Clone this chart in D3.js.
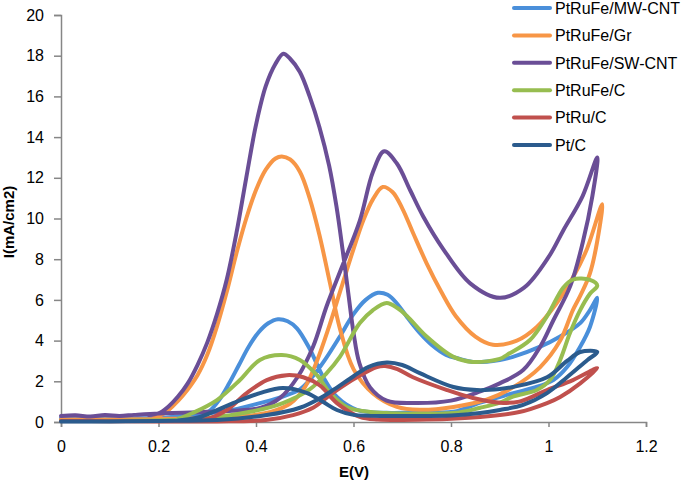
<!DOCTYPE html>
<html>
<head>
<meta charset="utf-8">
<script src="https://cdn.jsdelivr.net/npm/d3@7"></script>
<style>
  html, body { margin: 0; padding: 0; background: #fff; }
  svg { display: block; font-family: "Liberation Sans", Arial, sans-serif; }
</style>
</head>
<body>
<svg id="chart" width="685" height="483"></svg>
<script>
// ---- data (E in V, I in mA/cm2), each series is a closed CV loop ----
const seriesNames = ["PtRuFe/MW-CNT", "PtRuFe/Gr", "PtRuFe/SW-CNT", "PtRuFe/C", "PtRu/C", "Pt/C"];
const seriesColors = ["#4A8FDA", "#F79646", "#6A4E96", "#97BD50", "#C0504D", "#2B5B8D"];

const mwCNT = [[0,0.2],[0.1,0.18],[0.2,0.2],[0.25,0.3],[0.3,0.42],[0.353,0.6],[0.408,0.93],[0.455,1.25],[0.49,1.6],[0.515,2.2],[0.54,3.0],[0.572,4.2],[0.6,5.3],[0.625,6.0],[0.65,6.35],[0.67,6.25],[0.69,5.8],[0.71,5.15],[0.735,4.4],[0.76,3.8],[0.79,3.3],[0.818,3.1],[0.845,2.95],[0.9,3.05],[0.927,3.2],[0.983,3.7],[1.024,4.2],[1.065,4.86],[1.085,5.5],[1.1,6.1],
  [1.085,4.67],[1.065,3.7],[1.038,2.7],[1.01,2.06],[0.968,1.67],[0.915,1.33],[0.86,0.95],[0.805,0.5],[0.736,0.49],[0.668,0.45],[0.607,0.6],[0.566,1.23],[0.538,2.2],[0.51,3.6],[0.484,4.6],[0.465,4.95],[0.445,5.05],[0.425,4.85],[0.405,4.4],[0.385,3.7],[0.365,2.8],[0.345,1.9],[0.325,1.1],[0.305,0.55],[0.28,0.3],[0.25,0.2]];

const gr = [[0,0.12],[0.1,0.12],[0.2,0.15],[0.3,0.2],[0.38,0.3],[0.43,0.5],[0.47,0.9],[0.5,1.7],[0.525,3.0],[0.55,4.7],[0.575,6.6],[0.6,8.5],[0.62,9.9],[0.64,10.95],[0.66,11.55],[0.68,11.3],[0.70,10.5],[0.722,9.3],[0.75,7.8],[0.78,6.4],[0.81,5.2],[0.85,4.2],[0.886,3.8],[0.935,4.0],[0.976,4.67],[1.017,5.85],[1.05,7.1],[1.078,8.45],[1.11,10.7],
  [1.105,9.6],[1.085,7.3],[1.065,6.2],[1.05,5.5],[1.024,4.0],[0.983,2.7],[0.927,1.7],[0.873,1.1],[0.805,0.74],[0.736,0.6],[0.689,0.74],[0.64,1.4],[0.6,2.6],[0.572,4.6],[0.552,6.8],[0.53,9.2],[0.51,11.0],[0.49,12.3],[0.47,12.9],[0.453,13.05],[0.44,12.95],[0.42,12.4],[0.40,11.4],[0.38,10.0],[0.36,8.3],[0.34,6.4],[0.32,4.7],[0.3,3.3],[0.28,2.3],[0.25,1.3],[0.23,0.8],[0.21,0.4],[0.19,0.2]];

const swCNT = [[0,0.3],[0.03,0.33],[0.06,0.27],[0.09,0.34],[0.12,0.3],[0.15,0.35],[0.2,0.42],[0.25,0.45],[0.3,0.5],[0.35,0.55],[0.41,0.7],[0.45,1.2],[0.485,2.2],[0.517,3.7],[0.545,5.7],[0.576,7.6],[0.613,9.9],[0.64,12.3],[0.663,13.3],[0.689,12.7],[0.716,11.4],[0.743,10.1],[0.784,8.5],[0.84,6.8],[0.9,6.1],[0.95,6.6],[1.0,8.1],[1.03,9.4],[1.07,11.1],[1.1,13.0],
  [1.09,11.1],[1.07,8.8],[1.045,6.7],[1.01,5.0],[0.983,3.7],[0.948,2.55],[0.9,1.9],[0.86,1.5],[0.8,1.05],[0.72,0.93],[0.668,1.05],[0.634,1.7],[0.612,2.9],[0.6,4.4],[0.59,6.2],[0.578,8.4],[0.565,10.6],[0.55,12.6],[0.53,14.5],[0.51,16.0],[0.49,17.2],[0.47,17.85],[0.456,18.1],[0.44,17.6],[0.42,16.5],[0.40,14.6],[0.38,12.0],[0.36,9.3],[0.34,7.0],[0.32,5.3],[0.30,3.9],[0.28,2.8],[0.26,1.9],[0.24,1.25],[0.22,0.75],[0.2,0.42],[0.18,0.35]];

const carbon = [[0,0.05],[0.1,0.05],[0.2,0.08],[0.3,0.2],[0.388,0.5],[0.455,0.93],[0.51,1.6],[0.545,2.4],[0.572,3.2],[0.613,4.86],[0.64,5.5],[0.668,5.85],[0.69,5.6],[0.71,5.2],[0.75,4.2],[0.805,3.2],[0.845,2.95],[0.9,3.1],[0.915,3.3],[0.962,4.03],[0.997,5.2],[1.03,6.6],[1.05,7.0],[1.085,6.98],[1.1,6.7],
  [1.085,6.3],[1.065,5.5],[1.044,4.37],[1.024,3.05],[1.003,2.06],[0.976,1.57],[0.927,1.25],[0.9,0.95],[0.86,0.7],[0.805,0.44],[0.668,0.44],[0.634,0.49],[0.586,0.74],[0.552,1.42],[0.525,2.3],[0.49,3.05],[0.453,3.29],[0.408,3.05],[0.367,2.06],[0.32,1.08],[0.27,0.44],[0.24,0.15]];

const ptRuC = [[0,0.05],[0.1,0.04],[0.2,0.03],[0.32,0.03],[0.42,0.1],[0.476,0.34],[0.517,0.7],[0.545,1.2],[0.566,1.57],[0.607,2.2],[0.648,2.7],[0.665,2.75],[0.69,2.6],[0.722,2.2],[0.792,1.57],[0.845,1.18],[0.9,0.95],[0.94,1.0],[0.997,1.57],[1.05,2.06],[1.1,2.65],
  [1.065,1.9],[1.024,1.23],[0.997,0.93],[0.94,0.49],[0.86,0.25],[0.75,0.12],[0.65,0.12],[0.613,0.25],[0.566,0.93],[0.531,1.8],[0.497,2.2],[0.463,2.3],[0.422,2.06],[0.381,1.42],[0.34,0.59],[0.3,0.15],[0.25,0.05]];

const ptC = [[0,0.03],[0.1,0.03],[0.2,0.05],[0.32,0.1],[0.422,0.34],[0.49,0.7],[0.53,1.15],[0.56,1.6],[0.6,2.25],[0.63,2.7],[0.668,2.92],[0.7,2.8],[0.736,2.4],[0.805,1.72],[0.853,1.57],[0.9,1.62],[0.927,1.72],[0.997,2.2],[1.038,3.0],[1.065,3.44],[1.1,3.44],
  [1.08,3.05],[1.038,2.2],[0.997,1.42],[0.948,0.84],[0.9,0.59],[0.86,0.44],[0.8,0.32],[0.7,0.3],[0.6,0.35],[0.566,0.59],[0.538,0.98],[0.505,1.42],[0.455,1.67],[0.408,1.42],[0.353,0.93],[0.285,0.25],[0.24,0.08]];

const seriesData = [mwCNT, gr, swCNT, carbon, ptRuC, ptC];
const xTicks = [0, 0.2, 0.4, 0.6, 0.8, 1, 1.2];
const yTicks = [0, 2, 4, 6, 8, 10, 12, 14, 16, 18, 20];
const xTitle = "E(V)";
const yTitle = "I(mA/cm2)";

// ---- drawing ----
const svg = d3.select("#chart");
const x = d3.scaleLinear().domain([0, 1.2]).range([61, 646]);
const y = d3.scaleLinear().domain([0, 20]).range([422, 15]);
const axisColor = "#868686";

const yAxis = svg.append("g").attr("transform", "translate(61,0)")
  .call(d3.axisLeft(y).tickValues(yTicks).tickSize(7).tickPadding(10).tickFormat(d3.format("d")));
const xAxis = svg.append("g").attr("transform", "translate(0,422)")
  .call(d3.axisBottom(x).tickValues(xTicks).tickSize(5).tickPadding(14).tickFormat(d => String(d)));

[xAxis, yAxis].forEach(g => {
  g.select(".domain").attr("stroke", axisColor).attr("stroke-width", 1.5);
  g.selectAll(".tick line").attr("stroke", axisColor).attr("stroke-width", 1.5);
  g.selectAll(".tick text").attr("fill", "#000").attr("font-size", 16)
    .attr("font-family", "'Liberation Sans', Arial, sans-serif");
});

const line = d3.line().x(d => x(d[0])).y(d => y(d[1])).curve(d3.curveCatmullRom.alpha(0.5));
seriesData.forEach((data, i) => {
  svg.append("path").datum(data)
    .attr("d", line)
    .attr("fill", "none")
    .attr("stroke", seriesColors[i])
    .attr("stroke-width", 4)
    .attr("stroke-linejoin", "round")
    .attr("stroke-linecap", "round");
});

svg.append("text").attr("x", 354).attr("y", 477).attr("text-anchor", "middle")
  .attr("font-size", 15).attr("font-weight", "bold").text(xTitle);
svg.append("text").attr("transform", "translate(14,222) rotate(-90)").attr("text-anchor", "middle")
  .attr("font-size", 15).attr("font-weight", "bold").text(yTitle);

const legend = svg.append("g");
seriesNames.forEach((name, i) => {
  const cy = 8 + i * 27.4;
  legend.append("line").attr("x1", 514).attr("x2", 550).attr("y1", cy).attr("y2", cy)
    .attr("stroke", seriesColors[i]).attr("stroke-width", 4).attr("stroke-linecap", "round");
  legend.append("text").attr("x", 555).attr("y", cy).attr("dy", "0.36em")
    .attr("font-size", 16).attr("fill", "#000").text(name);
});
</script>
</body>
</html>
